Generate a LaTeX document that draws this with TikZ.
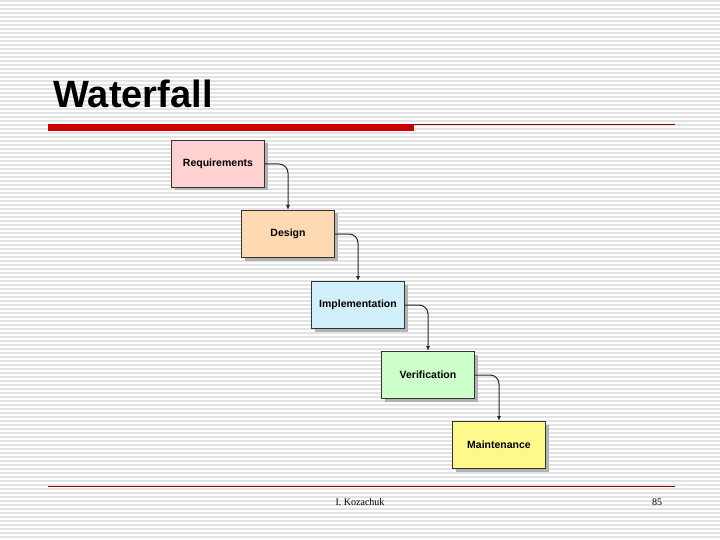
\documentclass[tikz,border=0pt]{standalone}
\usepackage{fontspec}
\usetikzlibrary{shadows,arrows.meta}
\setmainfont{Liberation Sans}
\newfontfamily\serifft{Liberation Serif}
\begin{document}
\begin{tikzpicture}[x=1pt,y=-1pt,
  phase/.style={draw=black!80,line width=1pt,minimum width=93pt,minimum height=47pt,anchor=north west,font=\bfseries\fontsize{10.5}{12}\selectfont,drop shadow={shadow xshift=3pt,shadow yshift=-3pt,fill=black!30,opacity=1}},
  flow/.style={draw=black!85,line width=1pt,rounded corners=9pt,-{Latex[length=5pt,width=4pt]}}]
\useasboundingbox (0,0) rectangle (720,540);
\fill[white] (0,0) rectangle (720,540);
\foreach \y in {1,5,...,540} \draw[black!11,line width=1.6pt] (0,\y) -- (720,\y);
\node[anchor=base west,font=\bfseries\fontsize{38}{40}\selectfont] (title) at (50,108) {Waterfall};
\fill[red!80!black] (48,124) rectangle (414,131);
\draw[red!55!black,line width=0.7pt] (414,124) -- (675,124);
\node[phase,fill=red!18] (req) at (171,140) {Requirements};
\node[phase,fill=orange!30] (des) at (241,210) {Design};
\node[phase,fill=cyan!18] (imp) at (311,281) {Implementation};
\node[phase,fill=green!20] (ver) at (381,351) {Verification};
\node[phase,fill=yellow!45] (mai) at (452,421) {Maintenance};
\draw[flow] (req.east) -| (des.north);
\draw[flow] (des.east) -| (imp.north);
\draw[flow] (imp.east) -| (ver.north);
\draw[flow] (ver.east) -| (mai.north);
\draw[red!55!black,line width=0.7pt] (48,486) -- (675,486);
\node[font=\serifft\fontsize{10}{12}\selectfont] (auth) at (360,502) {I. Kozachuk};
\node[font=\serifft\fontsize{10}{12}\selectfont] (pg) at (657,502) {85};
\end{tikzpicture}
\end{document}
